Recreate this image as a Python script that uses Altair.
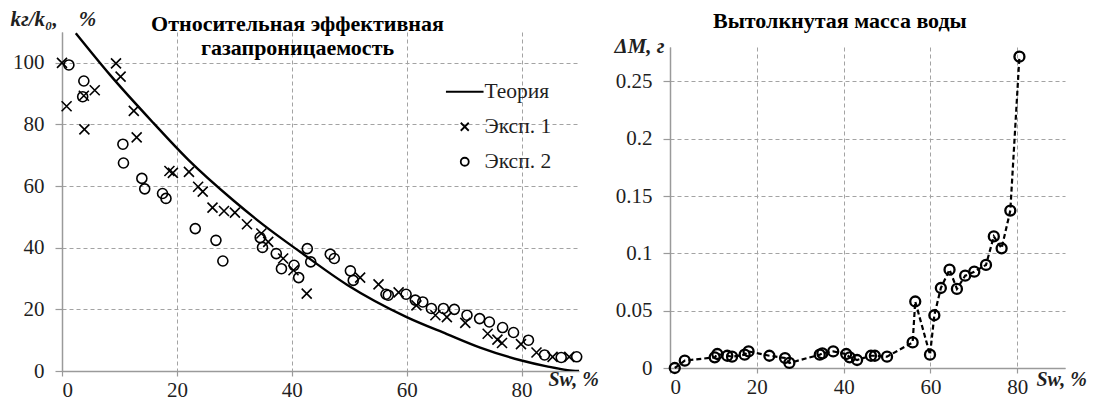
import altair as alt
import pandas as pd

# ---------------- data ----------------
theory_s = [2.4, 8.4, 15.9, 22.0, 29.8, 35.0, 41.5, 49.6, 60.0, 67.0, 72.8, 80.0, 84.4, 88.0, 90.0]
theory_k = [109.6, 96.0, 80.5, 68.5, 55.4, 47.5, 38.6, 28.0, 17.5, 12.0, 7.6, 3.4, 1.5, 0.3, 0.0]

exp1_s = [0.0, 0.8, 3.8, 3.9, 5.7, 9.4, 10.2, 12.5, 13.0, 18.7, 19.3, 22.1, 23.7, 24.5,
          26.2, 28.2, 30.1, 32.2, 34.7, 35.9, 38.5, 40.3, 42.6, 51.9, 55.1, 58.6, 61.7,
          65.0, 67.0, 70.2, 74.1, 75.8, 76.6, 79.9, 82.6, 85.4, 88.3]
exp1_k = [100.0, 85.9, 89.3, 78.4, 91.1, 99.8, 95.5, 84.4, 75.8, 64.9, 64.3, 64.6, 59.8, 58.2,
          53.0, 51.9, 51.4, 47.6, 44.6, 41.9, 36.5, 32.7, 25.1, 30.3, 28.1, 25.5, 21.3,
          18.1, 17.5, 15.6, 12.1, 10.2, 9.1, 8.7, 6.0, 4.6, 4.6]

exp2_s = [1.2, 3.8, 3.6, 10.6, 10.7, 13.9, 14.4, 17.5, 18.1, 23.2, 26.8, 28.0, 34.5, 34.9,
          37.3, 38.2, 40.4, 41.2, 42.7, 43.3, 46.7, 47.4, 50.2, 50.7, 56.4, 56.8, 59.9,
          61.5, 62.8, 64.3, 66.4, 68.3, 70.5, 72.7, 74.4, 76.7, 78.6, 81.2, 84.0, 86.9, 89.6]
exp2_k = [99.3, 94.1, 89.0, 73.6, 67.5, 62.5, 59.1, 57.6, 56.0, 46.2, 42.4, 35.7, 43.3, 40.1,
          38.1, 33.2, 34.3, 30.3, 39.7, 35.4, 37.9, 36.5, 32.5, 29.4, 24.9, 24.6, 24.9,
          23.0, 22.4, 20.3, 20.3, 20.0, 18.1, 17.0, 15.9, 14.1, 12.5, 10.0, 5.2, 4.4, 4.6]

dm_s = [1.1, 3.4, 10.3, 10.9, 13.2, 14.3, 17.2, 18.1, 22.9, 26.5, 27.5, 34.5, 35.1, 37.6,
        40.6, 41.4, 43.1, 46.3, 47.2, 50.0, 55.9, 56.5, 59.9, 60.9, 62.4, 64.4, 66.1,
        68.0, 70.1, 72.8, 74.6, 76.4, 78.4, 80.5]
dm_v = [0.0, 0.0064, 0.0093, 0.0122, 0.0107, 0.0099, 0.0116, 0.0145, 0.0107, 0.0087, 0.0044,
        0.0116, 0.0128, 0.0145, 0.0122, 0.0093, 0.0070, 0.0107, 0.0107, 0.0099, 0.0223, 0.058,
        0.0116, 0.046, 0.0698, 0.0858, 0.069, 0.0805, 0.084, 0.0899, 0.1148, 0.1044, 0.1373, 0.2716]

series_names = ["Теория", "Эксп. 1", "Эксп. 2"]
left_title = ["Относительная эффективная", "газапроницаемость"]
right_title = "Вытолкнутая масса воды"
NB = "\u00a0"
left_ytitle = "kг/k₀," + NB * 4 + "%"

# ---------------- styling ----------------
SERIF = "Liberation Serif, Times New Roman, serif"
GRID = "#a3a3a3"
AX = "#9a9a9a"
TXT = "#1f1f1f"
X_PATH = "M-1,-1L1,1M-1,1L1,-1"
LINE_PATH = "M-4.7,0L4.7,0"

theory_df = pd.DataFrame({"S": theory_s, "k": theory_k})
pts_df = pd.concat([
    pd.DataFrame({"S": exp1_s, "k": exp1_k, "series": series_names[1]}),
    pd.DataFrame({"S": exp2_s, "k": exp2_k, "series": series_names[2]}),
])
dm_df = pd.DataFrame({"S": dm_s, "M": dm_v})


def x_axis(title_x, title_y):
    return alt.Axis(values=[0, 20, 40, 60, 80], grid=True, gridDash=[4, 3], gridColor=GRID,
                    domainColor=AX, domainWidth=1.5, tickColor=AX, tickSize=5, tickWidth=1.2,
                    labelFont=SERIF, labelFontSize=21, labelColor=TXT, labelPadding=3,
                    title="Sw, %", titleFont=SERIF, titleFontSize=20, titleFontWeight="bold",
                    titleFontStyle="italic", titleColor=TXT, titleX=title_x, titleY=title_y,
                    titleAlign="left", titleBaseline="alphabetic", titleAngle=0)


def y_axis(values, title, title_x, title_y, fmt=None):
    kw = dict(values=values, grid=True, gridDash=[4, 3], gridColor=GRID,
              domainColor=AX, domainWidth=1.5, tickColor=AX, tickSize=7, tickWidth=1.2,
              labelFont=SERIF, labelFontSize=21, labelColor=TXT, labelPadding=11,
              title=title, titleFont=SERIF, titleFontSize=21, titleFontWeight="bold",
              titleFontStyle="italic", titleColor=TXT, titleX=title_x, titleY=title_y,
              titleAlign="left", titleBaseline="alphabetic", titleAngle=0)
    if fmt:
        kw["format"] = fmt
    return alt.Axis(**kw)


# ---------------- left panel ----------------
xs_left = alt.Scale(domain=[0, 90], nice=False)
ys_left = alt.Scale(domain=[0, 110], nice=False)

theory = alt.Chart(theory_df).mark_line(color="black", strokeWidth=2.4, interpolate="monotone", clip=True).encode(
    x=alt.X("S:Q", scale=xs_left, axis=x_axis(486, 14.5)),
    y=alt.Y("k:Q", scale=ys_left, axis=y_axis([0, 20, 40, 60, 80, 100], left_ytitle, -52, -7)),
)

points = alt.Chart(pts_df).mark_point(filled=False, color="black", strokeWidth=1.6, size=100, opacity=1).encode(
    x=alt.X("S:Q", scale=xs_left),
    y=alt.Y("k:Q", scale=ys_left),
    shape=alt.Shape("series:N",
                    scale=alt.Scale(domain=series_names, range=[LINE_PATH, X_PATH, "circle"]),
                    legend=alt.Legend(title=None, orient="none", legendX=392, legendY=49, padding=0,
                                      labelFont=SERIF, labelFontSize=21.5, labelColor=TXT,
                                      labelOffset=9, rowPadding=12, symbolSize=64,
                                      symbolStrokeWidth=1.8, symbolStrokeColor="black",
                                      symbolFillColor="transparent")),
)

left = alt.layer(theory, points).properties(
    width=517, height=339,
    title=alt.TitleParams(left_title, font=SERIF, fontSize=22,
                          fontWeight="bold", color="black", anchor="middle", frame="group",
                          dx=-23, offset=-52, lineHeight=24),
)

# ---------------- right panel ----------------
xs_right = alt.Scale(domain=[0, 91], nice=False)
ys_right = alt.Scale(domain=[0, 0.28], nice=False)

dm_line = alt.Chart(dm_df).mark_line(color="black", strokeWidth=2.2, strokeDash=[5, 3]).encode(
    x=alt.X("S:Q", scale=xs_right, axis=x_axis(366, 17)),
    y=alt.Y("M:Q", scale=ys_right,
            axis=y_axis([0, 0.05, 0.1, 0.15, 0.2, 0.25], "ΔM, г", -56, 5, fmt=".2~f")),
)
dm_pts = alt.Chart(dm_df).mark_point(filled=False, color="black", strokeWidth=2.3, size=100,
                                     shape="circle", opacity=1).encode(
    x=alt.X("S:Q", scale=xs_right),
    y=alt.Y("M:Q", scale=ys_right),
)

right = alt.layer(dm_line, dm_pts).properties(width=395, height=321)

# invisible spacer that lowers the right panel relative to the left one
spacer = alt.Chart(pd.DataFrame({"v": [0]})).mark_point(size=0, opacity=0).encode(
    x=alt.X("v:Q", axis=None, scale=alt.Scale(domain=[0, 1])),
    y=alt.Y("v:Q", axis=None, scale=alt.Scale(domain=[0, 1])),
).properties(width=395, height=1)

right_col = alt.vconcat(spacer, right, spacing=2)

chart = alt.hconcat(left, right_col, spacing=15).properties(
    padding={"left": 2, "top": 0, "right": 0, "bottom": 0},
    background="white",
    title=alt.TitleParams(right_title, font=SERIF, fontSize=22, fontWeight="bold", color="black",
                          anchor="start", frame="bounds", align="left", dx=703, offset=-25),
).configure_view(stroke=None)

chart.save("out.html", embed_options={"renderer": "svg", "actions": False})
